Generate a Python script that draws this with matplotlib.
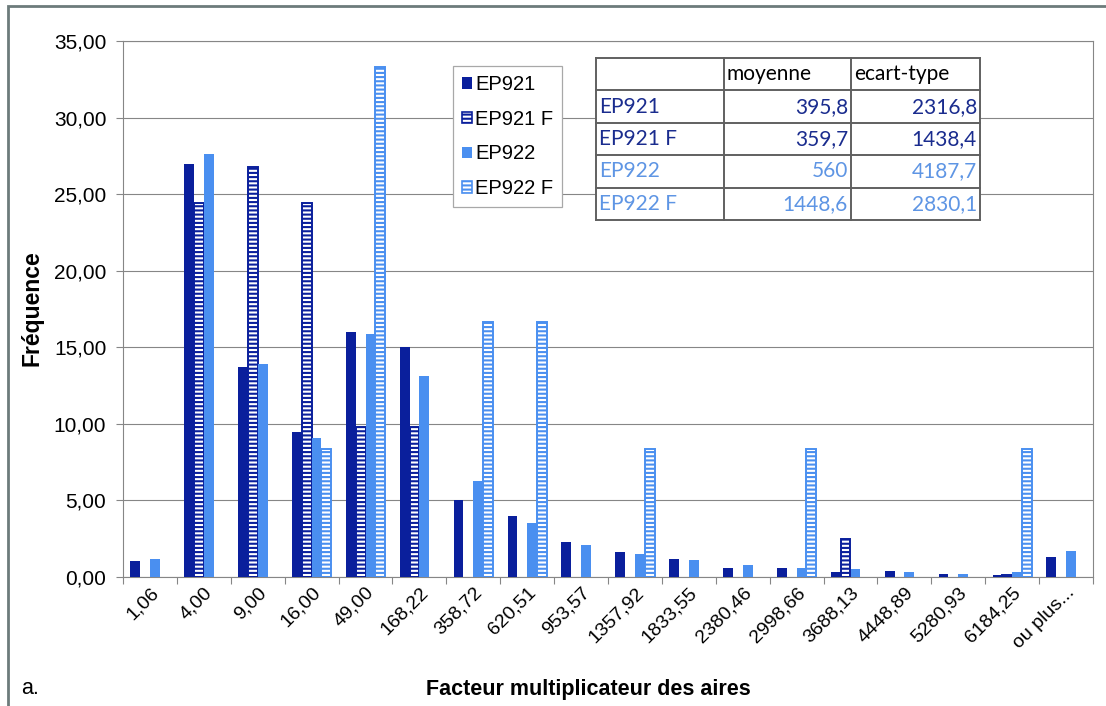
import numpy as np
import matplotlib
matplotlib.use("Agg")
import matplotlib.pyplot as plt
from matplotlib.lines import Line2D
from matplotlib.patches import Rectangle, Patch
from matplotlib.ticker import FuncFormatter

categories = ["1,06", "4,00", "9,00", "16,00", "49,00", "168,22", "358,72",
              "620,51", "953,57", "1357,92", "1833,55", "2380,46", "2998,66",
              "3688,13", "4448,89", "5280,93", "6184,25", "ou plus..."]

ep921 = [1.06, 27.0, 13.7, 9.5, 16.0, 15.0, 5.0, 4.0, 2.3, 1.6, 1.2, 0.6,
         0.6, 0.3, 0.4, 0.2, 0.1, 1.3]
ep921_f = [0, 24.4, 26.8, 24.4, 9.8, 9.8, 0, 0, 0, 0, 0, 0,
           0, 2.5, 0, 0, 0.15, 0]
ep922 = [1.2, 27.6, 13.9, 9.1, 15.9, 13.1, 6.3, 3.5, 2.1, 1.5, 1.1, 0.8,
         0.6, 0.55, 0.35, 0.2, 0.3, 1.7]
ep922_f = [0, 0, 0, 8.33, 33.33, 0, 16.67, 16.67, 0, 8.33, 0, 0,
           8.33, 0, 0, 0, 8.33, 0]

series_names = ["EP921", "EP921 F", "EP922", "EP922 F"]

# summary table: moyenne / ecart-type
table_header = ["", "moyenne", "ecart-type"]
table_moyenne = ["395,8", "359,7", "560", "1448,6"]
table_ecart = ["2316,8", "1438,4", "4187,7", "2830,1"]

DARK = "#0a1f9c"
LIGHT = "#4a8ff0"
TXT_DARK = "#1a2c8e"
TXT_LIGHT = "#5e95e4"
GRID = "#868686"

W, H = 1106, 706
plt.rcParams["font.family"] = ["Liberation Sans", "DejaVu Sans"]
plt.rcParams["hatch.linewidth"] = 1.5

fig = plt.figure(figsize=(W / 100, H / 100), dpi=100)
fig.patch.set_facecolor("white")


def fx(x):
    return x / W


def fy(y):
    return 1 - y / H


ax = fig.add_axes([fx(123), fy(577), fx(1093) - fx(123), fy(41) - fy(577)])

n = len(categories)
x = np.arange(n) + 0.5
bw = 1 / 5.5
styles = [
    (ep921, DARK, False),
    (ep921_f, DARK, True),
    (ep922, LIGHT, False),
    (ep922_f, LIGHT, True),
]
handles = []
for k, (vals, col, hatched) in enumerate(styles):
    vals = np.asarray(vals, dtype=float)
    pos = x + (k - 1.5) * bw
    keep = vals > 0  # empty classes get no bar at all
    if hatched:
        ax.bar(pos[keep], vals[keep], width=bw, facecolor="white", edgecolor=col,
               linewidth=1.4, hatch="----", zorder=3)
        handles.append(Patch(facecolor="white", edgecolor=col, linewidth=1.2,
                             hatch="----", label=series_names[k]))
    else:
        ax.bar(pos[keep], vals[keep], width=bw, color=col, linewidth=0, zorder=3)
        handles.append(Patch(facecolor=col, edgecolor=col, linewidth=0,
                             label=series_names[k]))

ax.set_xlim(0, n)
ax.set_ylim(0, 35)
ax.set_yticks(np.arange(0, 36, 5))
ax.yaxis.set_major_formatter(FuncFormatter(lambda v, p: f"{v:.2f}".replace(".", ",")))
ax.grid(axis="y", color=GRID, linewidth=0.8, zorder=0)
ax.set_axisbelow(True)
for s in ax.spines.values():
    s.set_color(GRID)
    s.set_linewidth(0.8)

ax.set_xticks(np.arange(n + 1))
ax.set_xticklabels([])
ax.set_xticks(x, minor=True)
ax.set_xticklabels(categories, minor=True, rotation=45, ha="right", va="top",
                   rotation_mode="anchor", fontsize=14)
ax.tick_params(axis="x", which="minor", length=0, pad=5)
ax.tick_params(axis="x", which="major", length=5, color=GRID)
ax.tick_params(axis="y", length=5, color=GRID, labelsize=15, pad=7)

leg = ax.legend(handles=handles, loc="upper left",
                bbox_to_anchor=(fx(453), fy(66)), bbox_transform=fig.transFigure,
                borderaxespad=0, fontsize=14.5, handlelength=0.5, handleheight=0.5,
                handletextpad=0.15, labelspacing=0.78, borderpad=0.45,
                fancybox=False, framealpha=1, edgecolor="#a8a8a8")
leg.get_frame().set_linewidth(0.9)

# table of means and standard deviations
tx = [596, 724, 851, 980]
ty = np.linspace(58, 220, 6)
fig.add_artist(Rectangle((fx(tx[0]), fy(ty[-1])), fx(tx[-1]) - fx(tx[0]),
                         fy(ty[0]) - fy(ty[-1]), transform=fig.transFigure,
                         facecolor="white", edgecolor="none", zorder=4))
for yy in ty:
    fig.add_artist(Line2D([fx(tx[0]), fx(tx[-1])], [fy(yy), fy(yy)],
                          color="#606060", linewidth=1.4, zorder=5))
for xx in tx:
    fig.add_artist(Line2D([fx(xx), fx(xx)], [fy(ty[0]), fy(ty[-1])],
                          color="#606060", linewidth=1.4, zorder=5))

tfont = dict(family=["Lato", "DejaVu Sans"], fontsize=15, va="center", zorder=6)
for j, h in enumerate(table_header):
    fig.text(fx(tx[j] + 3), fy((ty[0] + ty[1]) / 2), h, color="black", ha="left", **tfont)
row_cols = [TXT_DARK, TXT_DARK, TXT_LIGHT, TXT_LIGHT]
for i in range(4):
    yc = fy((ty[i + 1] + ty[i + 2]) / 2)
    c = row_cols[i]
    fig.text(fx(tx[0] + 3), yc, series_names[i], color=c, ha="left", **tfont)
    fig.text(fx(tx[2] - 3), yc, table_moyenne[i], color=c, ha="right", **tfont)
    fig.text(fx(tx[3] - 3), yc, table_ecart[i], color=c, ha="right", **tfont)

# axis titles and panel letter
fig.text(fx(32), fy(308), "Fréquence", rotation=90, fontsize=16.5,
         fontweight="bold", ha="center", va="center")
fig.text(fx(588), fy(690), "Facteur multiplicateur des aires",
         fontsize=15.5, fontweight="bold", ha="center", va="center")
fig.text(fx(21), fy(688), "a.", fontsize=15.5, ha="left", va="center")

# outer frame of the chart object
fig.add_artist(Rectangle((fx(8), fy(720)), fx(1130) - fx(8), fy(6) - fy(720),
                         transform=fig.transFigure, facecolor="none",
                         edgecolor="#6d7b7b", linewidth=2, clip_on=False))

fig.savefig("out.png", dpi=100)
